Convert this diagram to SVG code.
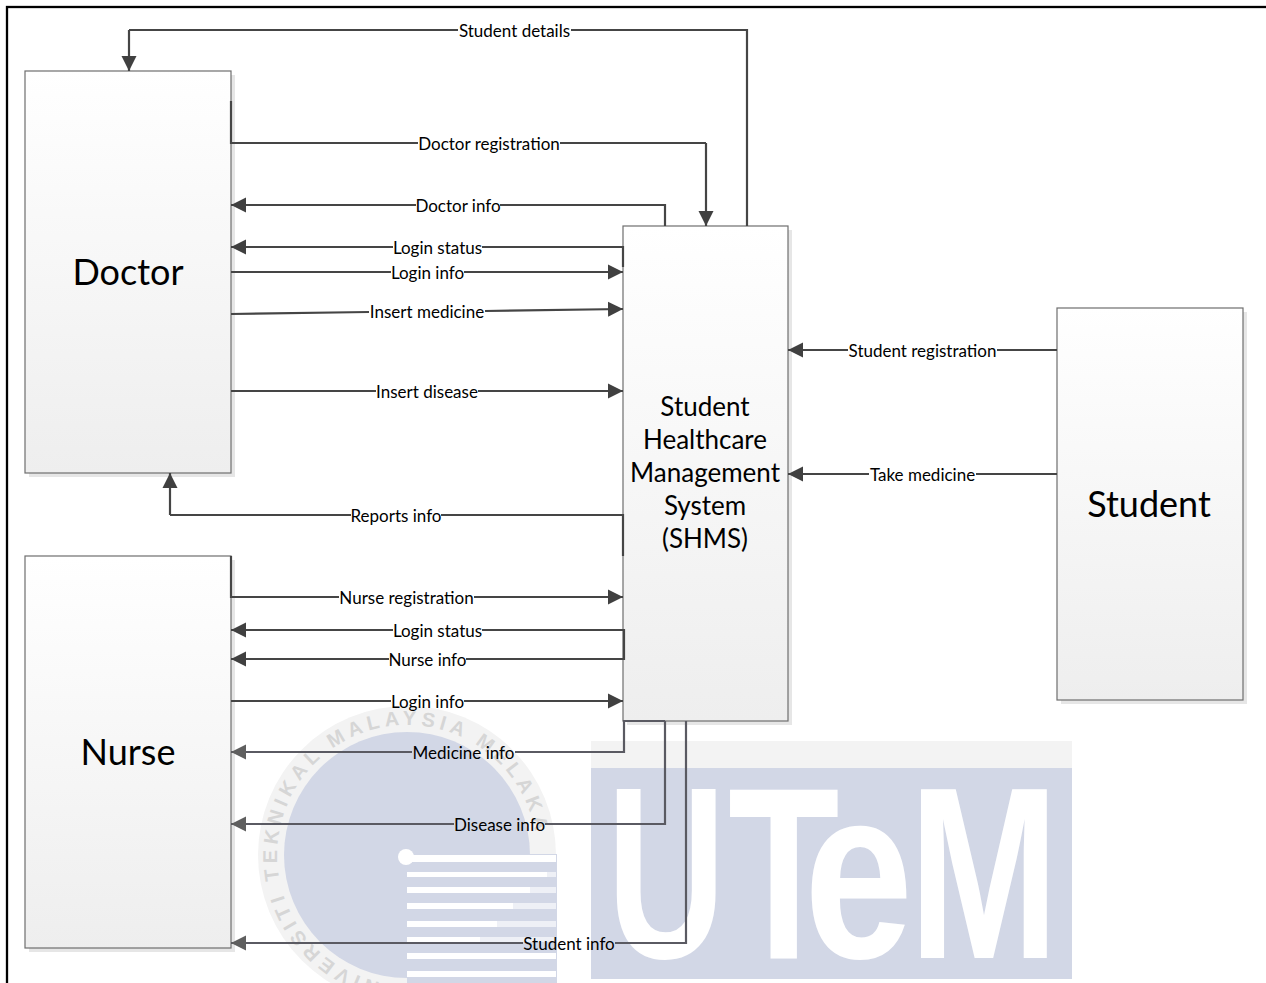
<svg xmlns="http://www.w3.org/2000/svg" width="1266" height="983" viewBox="0 0 1266 983">
<style>
.box{fill:url(#g);stroke:#6e6e6e;stroke-width:1.2}
.sh{fill:#e6e6e6}
.c{fill:none;stroke:#454545;stroke-width:2.200;stroke-linejoin:miter}
.c2{fill:none;stroke:#5a5a62;stroke-width:2.200}
.a{marker-end:url(#ah)}
.a2{marker-end:url(#ah2)}
text{font-family:Lato,"Liberation Sans",sans-serif;fill:#000}
.l{font-size:17px;text-anchor:middle}
.t{font-size:36px;text-anchor:middle}
.s{font-size:26px;text-anchor:middle}
.wm{fill:#d2d7e6}
.st{fill:#fff}
.pale{fill:#eef0f6}
.big{font-family:"Liberation Sans",sans-serif;font-weight:700;font-size:245px;fill:#fff}
</style>
<defs>
<linearGradient id="g" x1="0" y1="0" x2="0" y2="1"><stop offset="0" stop-color="#fff"/><stop offset="1" stop-color="#eeeeee"/></linearGradient>
<marker id="ah" markerUnits="userSpaceOnUse" markerWidth="16" markerHeight="16" refX="15" refY="8" orient="auto"><path d="M0,0.500L15,8L0,15.500Z" fill="#404040"/></marker>
<marker id="ah2" markerUnits="userSpaceOnUse" markerWidth="16" markerHeight="16" refX="15" refY="8" orient="auto"><path d="M0,0.500L15,8L0,15.500Z" fill="#5f5f5f"/></marker>
<path id="ringp" d="M407,985A130,130 0 1 1 499,947"/>
</defs>
<rect width="1266" height="983" fill="#fff"/>
<g id="watermark">
<circle cx="407" cy="855" r="149" fill="#f3f3f3"/>
<circle cx="407" cy="855" r="123" class="wm"/>
<text font-size="20" font-weight="700" style="font-family:'Liberation Sans',sans-serif;letter-spacing:4.800px;fill:#d6d6d6"><textPath href="#ringp" startOffset="8">UNIVERSITI TEKNIKAL MALAYSIA MELAKA</textPath></text>
<rect x="407" y="854" width="150" height="129" class="wm"/>
<g class="pale">
<rect x="407" y="855" width="149" height="7"/>
<rect x="407" y="872" width="149" height="5"/>
<rect x="407" y="887" width="149" height="6"/>
<rect x="407" y="903" width="149" height="6"/>
<rect x="407" y="921" width="149" height="6"/>
<rect x="407" y="937" width="149" height="5"/>
<rect x="407" y="953" width="149" height="6"/>
<rect x="407" y="971" width="149" height="6"/>
</g>
<g class="st">
<rect x="407" y="855" width="149" height="7"/>
<rect x="407" y="872" width="140" height="5"/>
<rect x="407" y="887" width="123" height="6"/>
<rect x="407" y="903" width="106" height="6"/>
<rect x="407" y="921" width="90" height="6"/>
<rect x="407" y="937" width="73" height="5"/>
<rect x="407" y="953" width="149" height="6"/>
<rect x="407" y="971" width="149" height="6"/>
</g>
<circle cx="406" cy="857" r="8" fill="#fff"/>
<rect x="591" y="741" width="481" height="27" fill="#f3f3f3"/>
<rect x="591" y="768" width="481" height="211" class="wm"/>
<text class="big" transform="translate(607,958) scale(.67,1)">U</text>
<text class="big" transform="translate(728,958) scale(.745,1)">T</text>
<text class="big" transform="translate(804,958) scale(.8,1)">e</text>
<text class="big" transform="translate(909,958) scale(.734,1)">M</text>
</g>
<rect id="frame" x="7" y="7" width="1270" height="990" fill="none" stroke="#000" stroke-width="2.300"/>
<g id="doctor"><rect class="sh" x="29" y="75" width="206" height="402"/><rect class="box" x="25" y="71" width="206" height="402"/><text class="t" x="128" y="285">Doctor</text></g>
<g id="nurse"><rect class="sh" x="29" y="560" width="206" height="392"/><rect class="box" x="25" y="556" width="206" height="392"/><text class="t" x="128" y="765">Nurse</text></g>
<g id="shms"><rect class="sh" x="627" y="230" width="165" height="495"/><rect class="box" x="623" y="226" width="165" height="495"/>
<text class="s"><tspan x="705" y="416">Student</tspan><tspan x="705" y="449">Healthcare</tspan><tspan x="705" y="482">Management</tspan><tspan x="705" y="515">System</tspan><tspan x="705" y="548">(SHMS)</tspan></text></g>
<g id="student"><rect class="sh" x="1061" y="312" width="186" height="392"/><rect class="box" x="1057" y="308" width="186" height="392"/><text class="t" x="1149" y="517">Student</text></g>
<g id="connectors">
<path class="c" d="M747,226V30H571M458,30H129"/><path class="c a" d="M129,30V71"/>
<path class="c" d="M231,101V143H418M560,143H706"/><path class="c a" d="M706,143V226"/>
<path class="c" d="M665,226V205H500"/><path class="c a" d="M416,205H231"/>
<path class="c" d="M623,267V247H482"/><path class="c a" d="M393,247H231"/>
<path class="c" d="M231,272H391"/><path class="c a" d="M464,272H623"/>
<path class="c" d="M231,314L369,312"/><path class="c a" d="M485,311L623,309"/>
<path class="c" d="M231,391H376"/><path class="c a" d="M478,391H623"/>
<path class="c" d="M623,556V515H441"/><path class="c" d="M351,515H170"/><path class="c a" d="M170,515V473"/>
<path class="c" d="M231,556V597H339"/><path class="c a" d="M474,597H623"/>
<path class="c" d="M624,660V630H482"/><path class="c a" d="M393,630H231"/>
<path class="c" d="M623,659H466"/><path class="c a" d="M389,659H231"/>
<path class="c" d="M231,701H391"/><path class="c a" d="M464,701H623"/>
<path class="c2" d="M665,721H624V752H515"/><path class="c2 a2" d="M412,752H231"/>
<path class="c2" d="M665,721V824H545"/><path class="c2 a2" d="M454,824H231"/>
<path class="c2" d="M686,721V943H615"/><path class="c2 a2" d="M523,943H231"/>
<path class="c" d="M1057,350H997"/><path class="c a" d="M848,350H788"/>
<path class="c" d="M1057,474H976"/><path class="c a" d="M869,474H788"/>
</g>
<g id="labels">
<text class="l" x="514.500" y="37">Student details</text>
<text class="l" x="489" y="150">Doctor registration</text>
<text class="l" x="458" y="212">Doctor info</text>
<text class="l" x="437.500" y="254">Login status</text>
<text class="l" x="427.500" y="279">Login info</text>
<text class="l" x="427" y="318">Insert medicine</text>
<text class="l" x="427" y="398">Insert disease</text>
<text class="l" x="396" y="522">Reports info</text>
<text class="l" x="406.500" y="604">Nurse registration</text>
<text class="l" x="437.500" y="637">Login status</text>
<text class="l" x="427.500" y="666">Nurse info</text>
<text class="l" x="427.500" y="708">Login info</text>
<text class="l" x="463.500" y="759">Medicine info</text>
<text class="l" x="499.500" y="831">Disease info</text>
<text class="l" x="569" y="950">Student info</text>
<text class="l" x="922.500" y="357">Student registration</text>
<text class="l" x="922.500" y="481">Take medicine</text>
</g>
</svg>
